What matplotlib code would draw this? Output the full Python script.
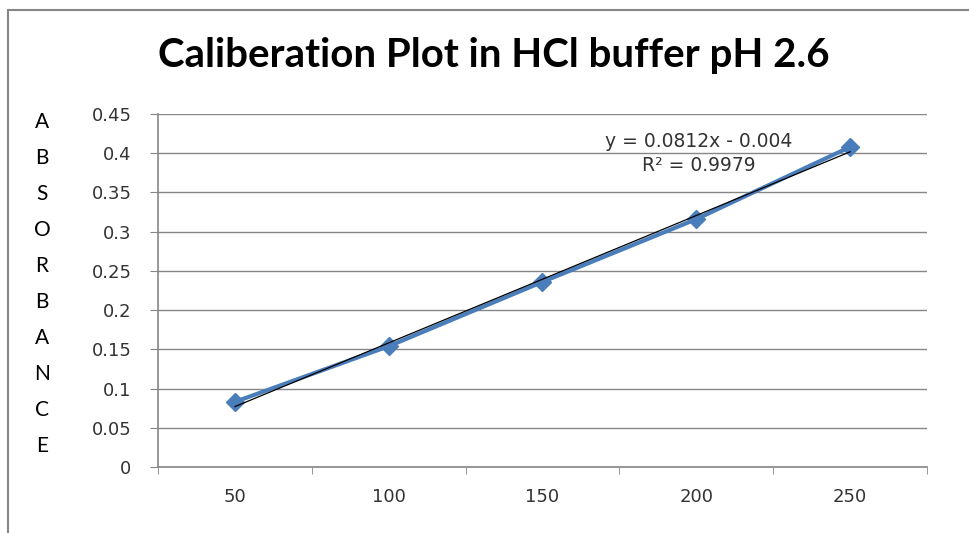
import numpy as np
import matplotlib.pyplot as plt
from matplotlib.patches import Rectangle

# data
concentration = ['50', '100', '150', '200', '250']
absorbance = [0.083, 0.154, 0.236, 0.316, 0.408]
y_ticks = [0, 0.05, 0.1, 0.15, 0.2, 0.25, 0.3, 0.35, 0.4, 0.45]
y_tick_labels = ['0', '0.05', '0.1', '0.15', '0.2', '0.25', '0.3', '0.35', '0.4', '0.45']
title = 'Caliberation Plot in HCl buffer pH 2.6'
ylabel = 'ABSORBANCE'
eq_text = 'y = 0.0812x - 0.004'
r2_text = 'R² = 0.9979'

grey = '#868686'
blue = '#4A7EBB'

fig = plt.figure(figsize=(9.7, 5.33), dpi=100)
# chart frame (cropped at right and bottom like the reference)
fig.patches.append(Rectangle((8 / 970, -0.1), 1.2, (533 - 10) / 533 + 0.1,
                             transform=fig.transFigure, fill=False,
                             edgecolor=grey, linewidth=1.5))

ax = fig.add_axes([158 / 970, 66 / 533, 769 / 970, 353 / 533])

idx = np.arange(1, len(concentration) + 1)
ax.plot(idx, absorbance, color=blue, linewidth=3, marker='D', markersize=9,
        markerfacecolor=blue, markeredgecolor=blue, zorder=3)

# linear trendline on the category index (as Excel does)
k, b = np.polyfit(idx, absorbance, 1)
ax.plot(idx, k * idx + b, color='black', linewidth=0.9, zorder=4)

ax.set_xlim(0.5, len(concentration) + 0.5)
ax.set_ylim(0, 0.45)
ax.set_yticks(y_ticks)
ax.set_yticklabels(y_tick_labels)
ax.set_xticks(idx)
ax.set_xticklabels(concentration)
ax.set_xticks(np.arange(0.5, len(concentration) + 1), minor=True)
ax.tick_params(axis='x', which='major', length=0, pad=15, labelsize=13, colors='#333333')
ax.tick_params(axis='x', which='minor', length=5, color=grey, direction='out')
ax.tick_params(axis='y', length=6, color=grey, pad=13, labelsize=13, labelcolor='#333333')

ax.grid(axis='y', color=grey, linewidth=1)
ax.set_axisbelow(True)
for s in ['top', 'right']:
    ax.spines[s].set_visible(False)
for s in ['left', 'bottom']:
    ax.spines[s].set_color(grey)
    ax.spines[s].set_linewidth(1.2)

ax.text(0.703, 0.923, eq_text, transform=ax.transAxes, ha='center', va='center',
        fontsize=13.5, color='#333333')
ax.text(0.703, 0.853, r2_text, transform=ax.transAxes, ha='center', va='center',
        fontsize=13.5, color='#333333')

fig.text(494 / 970, 1 - 55 / 533, title, ha='center', va='center',
         fontsize=29, fontweight='bold', family='Lato')

# vertical stacked letters for the y label
for i, ch in enumerate(ylabel):
    fig.text(42 / 970, 1 - (122 + 36 * i) / 533, ch, ha='center', va='center',
             fontsize=15, family='Lato')

fig.savefig('out.png', dpi=100)
